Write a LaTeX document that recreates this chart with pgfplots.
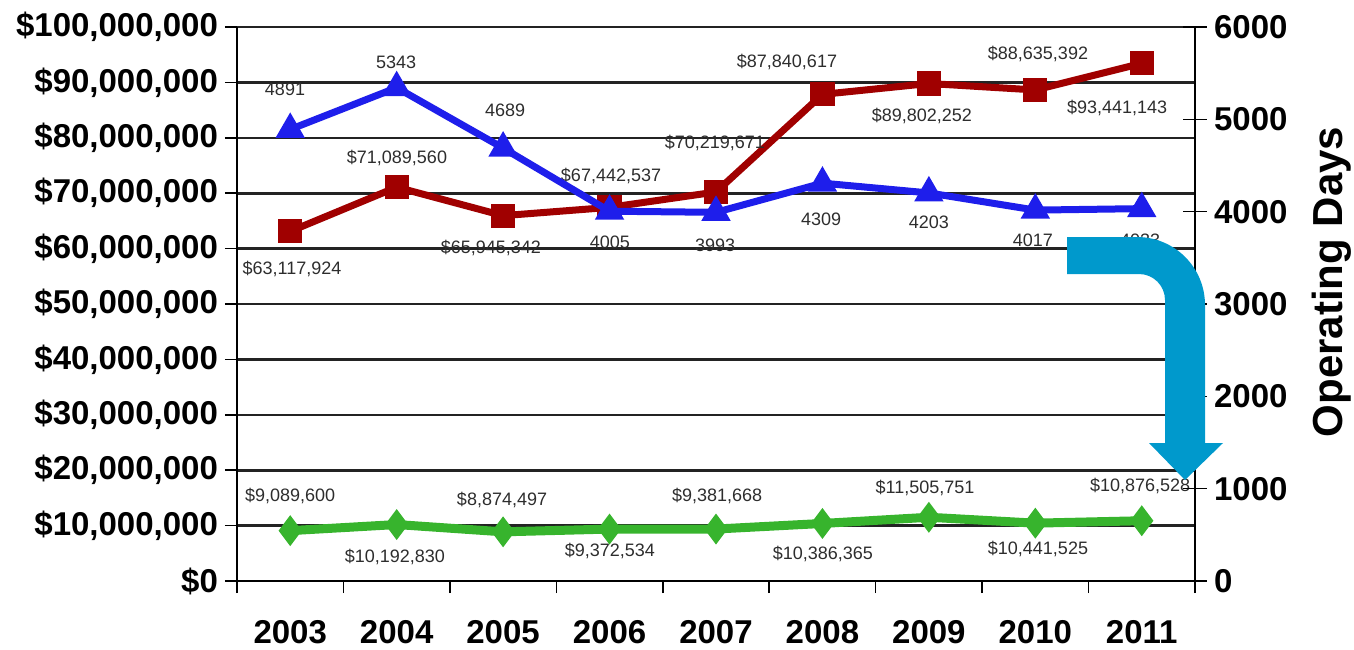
\documentclass[border=0pt]{standalone}
\usepackage{fontspec}
\setmainfont{Liberation Sans}
\usepackage{pgfplots}
\pgfplotsset{compat=1.18}

\definecolor{redline}{RGB}{160,0,0}
\definecolor{blueline}{RGB}{30,30,235}
\definecolor{greenline}{RGB}{55,180,45}
\definecolor{arrowblue}{RGB}{0,153,204}
\definecolor{gridgray}{RGB}{35,35,35}
\definecolor{labelgray}{RGB}{45,45,45}

\tikzset{lbl/.style={font=\fontsize{9}{10}\selectfont, text=labelgray, inner sep=0pt}}

\begin{document}
\begin{tikzpicture}
% page = 1354x649 px at 0.5pt per px; plot box starts at px (237, 581)
\useasboundingbox (-118.5pt,-34pt) rectangle (558.5pt,290.5pt);

% dollar series, left axis
\begin{axis}[
    scale only axis, width=479pt, height=277pt,
    xmin=-0.5, xmax=8.5, ymin=0, ymax=100000000,
    clip=false,
    scaled y ticks=false,
    axis x line*=bottom, axis y line*=left,
    axis line style={-, black, line width=0.9pt},
    tick style={black, line width=0.8pt},
    tick align=outside,
    major tick length=6pt, minor tick length=6pt,
    xtick={0,1,2,3,4,5,6,7,8},
    xticklabels={2003,2004,2005,2006,2007,2008,2009,2010,2011},
    minor xtick={-0.5,0.5,1.5,2.5,3.5,4.5,5.5,6.5,7.5,8.5},
    major x tick style={draw=none},
    ytick={0,10000000,20000000,30000000,40000000,50000000,60000000,70000000,80000000,90000000,100000000},
    yticklabels={\$0,{\$10,000,000},{\$20,000,000},{\$30,000,000},{\$40,000,000},{\$50,000,000},{\$60,000,000},{\$70,000,000},{\$80,000,000},{\$90,000,000},{\$100,000,000}},
    ymajorgrids, grid style={gridgray, line width=1.3pt},
    ticklabel style={font=\bfseries\fontsize{16.5}{17}\selectfont},
    xticklabel style={yshift=-10pt},
]
\addplot[redline, line width=3.5pt, mark=square*, mark size=4.3pt, mark options={solid}]
  coordinates {(0,63117924) (1,71089560) (2,65945342) (3,67442537) (4,70219671)
               (5,87840617) (6,89802252) (7,88635392) (8,93441143)};
\addplot[greenline, line width=4.5pt, mark=diamond*, mark size=4pt, mark options={solid}]
  coordinates {(0,9089600) (1,10192830) (2,8874497) (3,9372534) (4,9381668)
               (5,10386365) (6,11505751) (7,10441525) (8,10876528)};

\node[lbl] at (axis cs:0.017,56320000) {\$63,117,924};
\node[lbl] at (axis cs:1.003,76350000) {\$71,089,560};
\node[lbl] at (axis cs:1.886,60110000) {\$65,945,342};
\node[lbl] at (axis cs:3.014,73100000) {\$67,442,537};
\node[lbl] at (axis cs:3.990,79060000) {\$70,219,671};
\node[lbl] at (axis cs:4.667,93680000) {\$87,840,617};
\node[lbl] at (axis cs:5.935,83940000) {\$89,802,252};
\node[lbl] at (axis cs:7.025,95130000) {\$88,635,392};
\node[lbl] at (axis cs:7.768,85380000) {\$93,441,143};

\node[lbl] at (axis cs:0.000,15340000) {\$9,089,600};
\node[lbl] at (axis cs:0.984,4330000) {\$10,192,830};
\node[lbl] at (axis cs:1.990,14620000) {\$8,874,497};
\node[lbl] at (axis cs:3.004,5420000) {\$9,372,534};
\node[lbl] at (axis cs:4.010,15340000) {\$9,381,668};
\node[lbl] at (axis cs:5.005,4870000) {\$10,386,365};
\node[lbl] at (axis cs:5.964,16790000) {\$11,505,751};
\node[lbl] at (axis cs:7.025,5780000) {\$10,441,525};
\node[lbl] at (axis cs:7.984,17150000) {\$10,876,528};
\end{axis}

% operating days, right axis
\begin{axis}[
    scale only axis, width=479pt, height=277pt,
    xmin=-0.5, xmax=8.5, ymin=0, ymax=6000,
    clip=false,
    axis x line=none, axis y line*=right,
    axis line style={-, black, line width=0.9pt},
    tick style={black, line width=0.8pt},
    tick align=center, major tick length=12pt,
    ytick={0,1000,2000,3000,4000,5000,6000},
    yticklabels={0,1000,2000,3000,4000,5000,6000},
    yticklabel style={font=\bfseries\fontsize{16.5}{17}\selectfont},
    ylabel={Operating Days},
    ylabel style={font=\bfseries\fontsize{21}{22}\selectfont, at={(axis description cs:1.143,0.54)}, anchor=center},
]
\addplot[blueline, line width=3.5pt, mark=triangle*, mark size=5pt, mark options={solid}]
  coordinates {(0,4891) (1,5343) (2,4689) (3,4005) (4,3993)
               (5,4309) (6,4203) (7,4017) (8,4033)};

\node[lbl] at (axis cs:-0.049,5329) {4891};
\node[lbl] at (axis cs:0.994,5621) {5343};
\node[lbl] at (axis cs:2.018,5101) {4689};
\node[lbl] at (axis cs:3.004,3672) {4005};
\node[lbl] at (axis cs:3.991,3639) {3993};
\node[lbl] at (axis cs:4.987,3921) {4309};
\node[lbl] at (axis cs:6.001,3888) {4203};
\node[lbl] at (axis cs:6.978,3693) {4017};
\node[lbl] at (axis cs:7.984,3693) {4033};
\end{axis}

% blue turning arrow over the right edge, in reference pixels (y up)
\begin{scope}[x=0.5pt, y=0.5pt, shift={(-118.5pt,-34pt)}]
\fill[arrowblue] (1067,412) -- (1137,412) arc[start angle=90,end angle=0,radius=68]
  -- (1205,206) -- (1223,206) -- (1185,169) -- (1149,206) -- (1165,206)
  -- (1165,349) arc[start angle=0,end angle=90,radius=26] -- (1067,375) -- cycle;
\end{scope}
\end{tikzpicture}
\end{document}
